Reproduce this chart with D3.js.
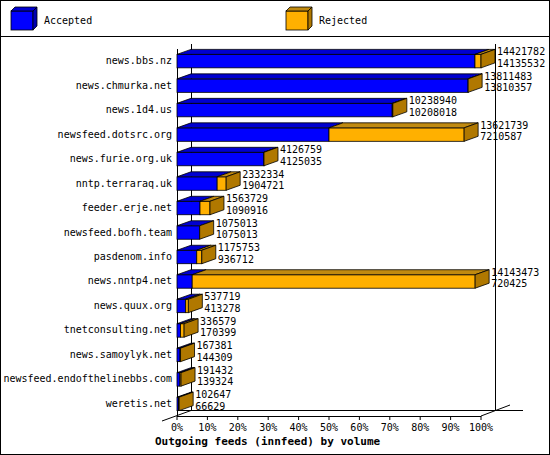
<!DOCTYPE html>
<html><head><meta charset="utf-8">
<script src="https://cdn.jsdelivr.net/npm/d3@7"></script>
<style>body{margin:0;background:#fff}</style>
</head><body><div id="chart"></div>
<script>
const hosts = ["news.bbs.nz","news.chmurka.net","news.1d4.us","newsfeed.dotsrc.org","news.furie.org.uk",
  "nntp.terraraq.uk","feeder.erje.net","newsfeed.bofh.team","pasdenom.info","news.nntp4.net",
  "news.quux.org","tnetconsulting.net","news.samoylyk.net","newsfeed.endofthelinebbs.com","weretis.net"];
const offered = [14421782,13811483,10238940,13621739,4126759,2332334,1563729,1075013,1175753,14143473,537719,336579,167381,191432,102647];
const accepted = [14135532,13810357,10208018,7210587,4125035,1904721,1090916,1075013,936712,720425,413278,170399,144309,139324,66629];
const ticks = [0,10,20,30,40,50,60,70,80,90,100];

const W = 550, H = 455, dx = 14, dy = -5;
const font = "DejaVu Sans Mono, monospace";
const svg = d3.select("#chart").append("svg").attr("width", W).attr("height", H)
  .style("font-family", font).style("font-size", "10px");
svg.append("rect").attr("x",0.5).attr("y",0.5).attr("width",W-1).attr("height",H-1).attr("fill","none").attr("stroke","#000");
svg.append("line").attr("x1",0).attr("x2",W).attr("y1",36.5).attr("y2",36.5).attr("stroke","#000");

const colors = {acc:["#0000ff","#0000b0","#0000d0"], rej:["#ffb000","#b07800","#c08a10"]};

function box(g, x, y, w, h, c, d) {
  g.append("rect").attr("x",x).attr("y",y).attr("width",Math.max(w,0)).attr("height",h).attr("fill",c[0]).attr("stroke","#000").attr("stroke-width",0.8);
  g.append("path").attr("d",`M${x},${y}L${x+d[0]},${y+d[1]}L${x+w+d[0]},${y+d[1]}L${x+w},${y}Z`).attr("fill",c[2]).attr("stroke","#000").attr("stroke-width",0.8);
}
function side(g, x, y, h, c, d) {
  g.append("path").attr("d",`M${x},${y}L${x+d[0]},${y+d[1]}L${x+d[0]},${y+h+d[1]}L${x},${y+h}Z`).attr("fill",c[1]).attr("stroke","#000").attr("stroke-width",0.8);
}

// legend
const lg = svg.append("g");
[["Accepted",colors.acc,11],["Rejected",colors.rej,286]].forEach(([t,c,x]) => {
  box(lg, x, 11, 22, 19, c, [4,-4]); side(lg, x+22, 11, 19, c, [4,-4]);
  lg.append("text").attr("x", x+33).attr("y", 24).text(t);
});

const max = d3.max(offered);
const x = d3.scaleLinear().domain([0, max]).range([177, 481]);
const xp = d3.scaleLinear().domain([0, 100]).range([177, 481]);
const y = d3.scaleBand().domain(hosts).range([49, 416]).paddingInner(0.45).paddingOuter(0.22);

// walls
const g = svg.append("g");
g.append("line").attr("x1",191.5).attr("x2",191.5).attr("y1",44).attr("y2",411).attr("stroke","#000");
g.append("line").attr("x1",495.5).attr("x2",495.5).attr("y1",44).attr("y2",411).attr("stroke","#000");
g.append("line").attr("x1",177.5).attr("x2",177.5).attr("y1",49).attr("y2",416).attr("stroke","#000");
g.append("line").attr("x1",177).attr("x2",523).attr("y1",410.5).attr("y2",410.5).attr("stroke","#000");
g.append("line").attr("x1",162).attr("x2",191).attr("y1",421).attr("y2",410.5).attr("stroke","#000");
g.append("line").attr("x1",481).attr("x2",510).attr("y1",416).attr("y2",405).attr("stroke","#000");
g.append("line").attr("x1",177).attr("x2",481).attr("y1",416.5).attr("y2",416.5).attr("stroke","#000");
ticks.forEach(t => {
  g.append("line").attr("x1",xp(t)).attr("x2",xp(t)).attr("y1",416).attr("y2",420).attr("stroke","#000");
  g.append("text").attr("x",xp(t)).attr("y",431).attr("text-anchor","middle").text(t+"%");
});
svg.append("text").attr("x",155).attr("y",445).attr("font-weight","bold").attr("font-size","11px")
  .text("Outgoing feeds (innfeed) by volume");

hosts.forEach((h, i) => {
  const by = y(h), bh = y.bandwidth();
  const xa = x(accepted[i]), xo = x(offered[i]);
  box(g, 177, by, xa-177, bh, colors.acc, [dx,dy]);
  if (offered[i] > accepted[i]) box(g, xa, by, xo-xa, bh, colors.rej, [dx,dy]);
  side(g, xo, by, bh, colors.rej, [dx,dy]);
  g.append("text").attr("x",172).attr("y",by+bh/2+3).attr("text-anchor","end").text(h);
  g.append("text").attr("x",xo+dx+2).attr("y",by+1).text(offered[i]);
  g.append("text").attr("x",xo+dx+2).attr("y",by+bh-1).text(accepted[i]);
});
</script></body></html>
